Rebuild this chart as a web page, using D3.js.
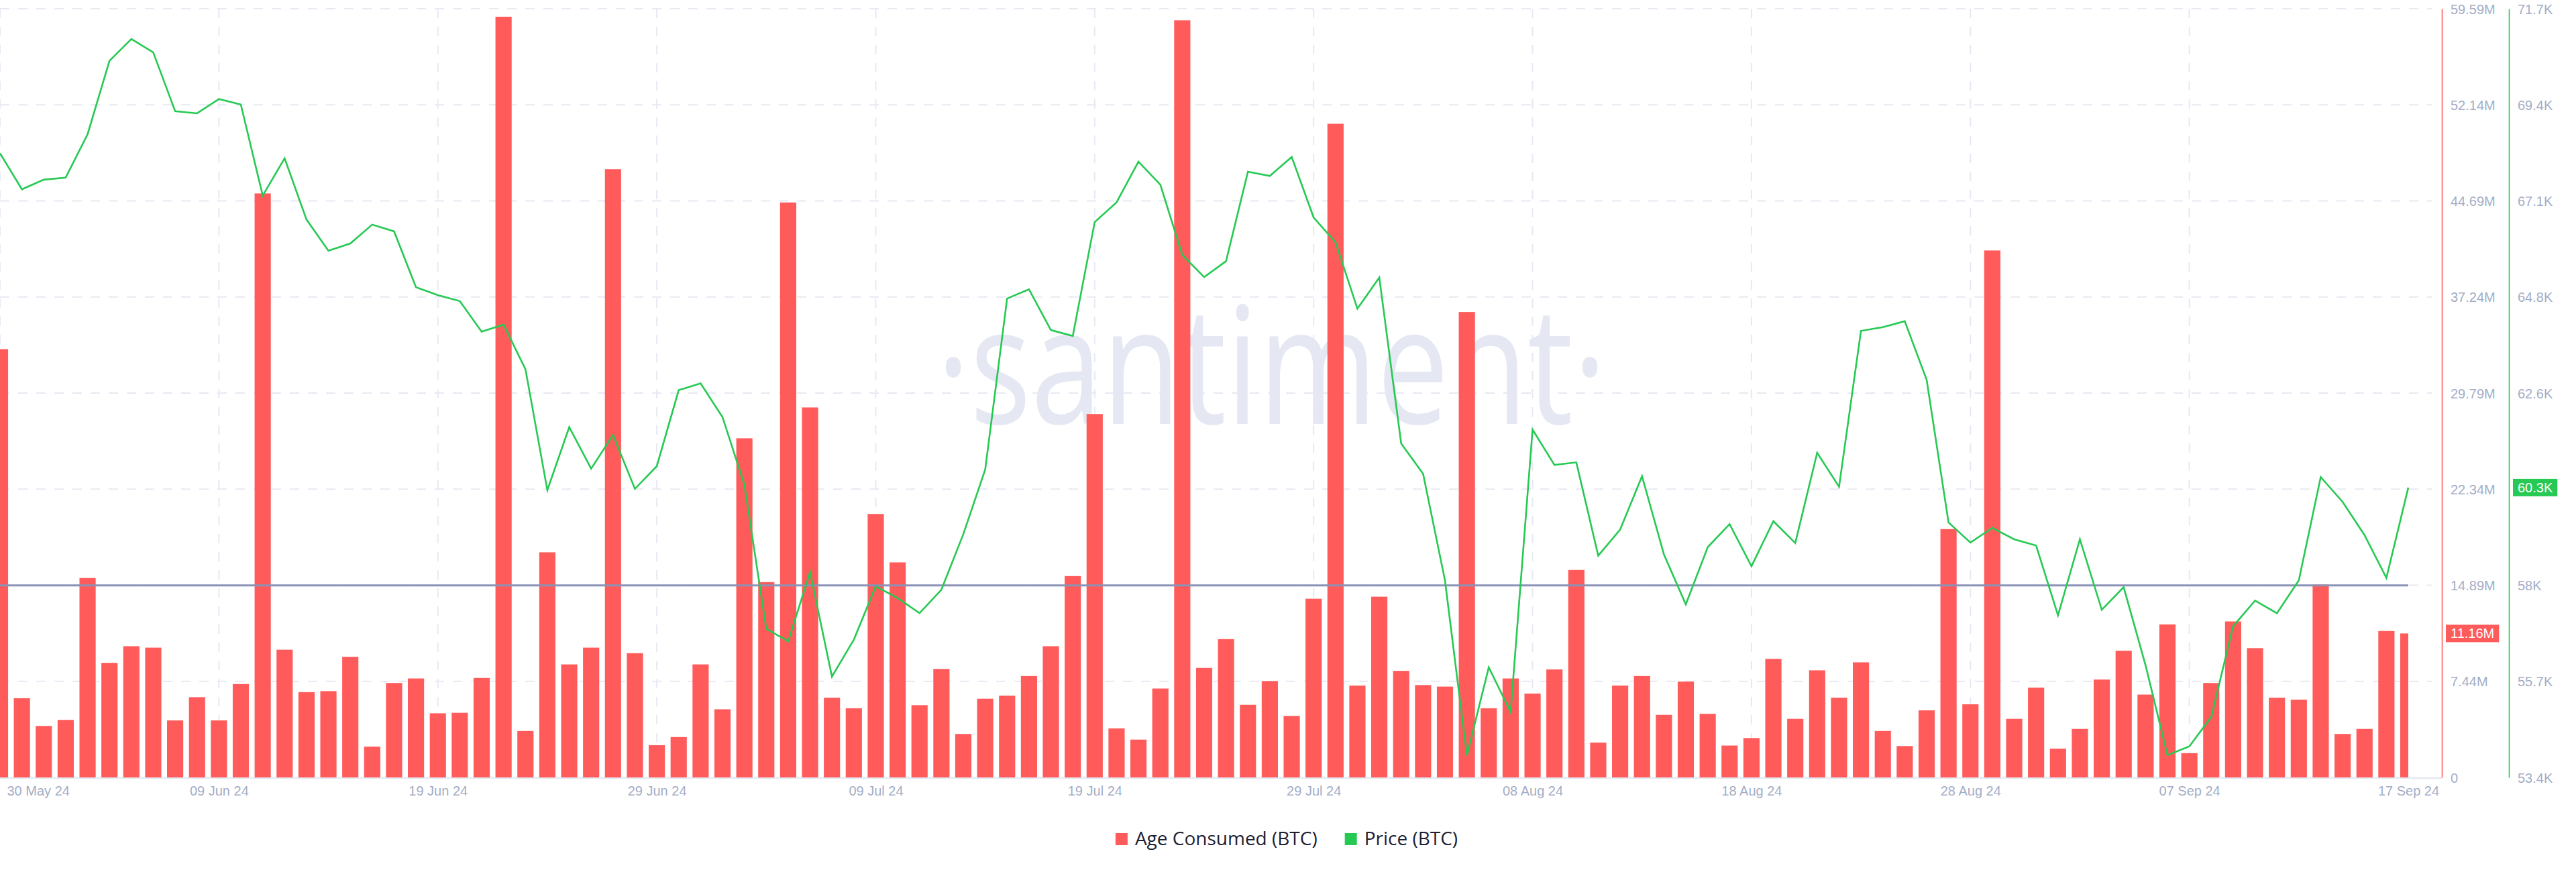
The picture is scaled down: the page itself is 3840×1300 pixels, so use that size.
<!DOCTYPE html>
<html><head><meta charset="utf-8">
<script src="https://cdn.jsdelivr.net/npm/d3@7"></script>
<style>
html,body{margin:0;padding:0;background:#fff;}
svg{display:block;}
</style></head>
<body><svg id="chart" width="3840" height="1300"></svg>
<script>
// ---------------- data ----------------
const startDate = "2024-05-30"; // one value per day from this date
const ageConsumedM = [
  33.2, 6.14, 3.99, 4.46, 15.46, 8.88, 10.17, 10.06, 4.42, 6.22,
  4.42, 7.24, 45.27, 9.90, 6.61, 6.69, 9.35, 2.39, 7.32, 7.67,
  4.97, 5.01, 7.71, 58.97, 3.60, 17.45, 8.76, 10.06, 47.15, 9.63,
  2.50, 3.13, 8.76, 5.28, 26.29, 15.14, 44.57, 28.68, 6.18, 5.36,
  20.42, 16.67, 5.60, 8.41, 3.37, 6.10, 6.34, 7.86, 10.17, 15.61,
  28.17, 3.80, 2.93, 6.89, 58.69, 8.49, 10.72, 5.63, 7.47, 4.77,
  13.85, 50.67, 7.12, 14.01, 8.26, 7.16, 7.04, 36.08, 5.36, 7.67,
  6.50, 8.37, 16.08, 2.70, 7.12, 7.86, 4.85, 7.43, 4.93, 2.47,
  3.05, 9.19, 4.54, 8.30, 6.18, 8.92, 3.60, 2.43, 5.20, 19.25,
  5.67, 40.85, 4.54, 6.96, 2.23, 3.76, 7.59, 9.82, 6.42, 11.86,
  1.88, 7.32, 12.09, 10.02, 6.18, 6.03, 14.95, 3.37, 3.76, 11.35,
  11.16
];
const priceK = [
  68.26, 67.40, 67.63, 67.68, 68.71, 70.46, 70.98, 70.66, 69.26, 69.21,
  69.55, 69.42, 67.25, 68.14, 66.68, 65.94, 66.11, 66.56, 66.40, 65.07,
  64.88, 64.74, 64.01, 64.18, 63.12, 60.24, 61.74, 60.75, 61.55, 60.27,
  60.81, 62.62, 62.78, 61.98, 60.37, 56.94, 56.64, 58.29, 55.80, 56.68,
  57.95, 57.67, 57.31, 57.87, 59.19, 60.73, 64.80, 65.02, 64.05, 63.91,
  66.62, 67.09, 68.06, 67.51, 65.84, 65.31, 65.69, 67.82, 67.72, 68.17,
  66.73, 66.14, 64.56, 65.30, 61.35, 60.63, 58.09, 53.92, 56.02, 54.96,
  61.68, 60.84, 60.90, 58.68, 59.30, 60.57, 58.71, 57.52, 58.88, 59.43,
  58.43, 59.50, 58.98, 61.13, 60.32, 64.03, 64.12, 64.26, 62.87, 59.47,
  58.99, 59.34, 59.07, 58.92, 57.26, 59.07, 57.39, 57.93, 56.07, 53.93,
  54.14, 54.84, 57.00, 57.61, 57.31, 58.09, 60.55, 59.96, 59.17, 58.15,
  60.30
];
const averageAgeM = 14.89;
const xTickDates = ["2024-05-30","2024-06-09","2024-06-19","2024-06-29","2024-07-09","2024-07-19",
                    "2024-07-29","2024-08-08","2024-08-18","2024-08-28","2024-09-07","2024-09-17"];
const xTickLabels = ["30 May 24","09 Jun 24","19 Jun 24","29 Jun 24","09 Jul 24","19 Jul 24",
                     "29 Jul 24","08 Aug 24","18 Aug 24","28 Aug 24","07 Sep 24","17 Sep 24"];
const ageTickLabels = ["0","7.44M","14.89M","22.34M","29.79M","37.24M","44.69M","52.14M","59.59M"];
const priceTickLabels = ["53.4K","55.7K","58K","60.3K","62.6K","64.8K","67.1K","69.4K","71.7K"];
const ageDomain = [0, 59.59];
const priceDomain = [53.4, 71.7];
const lastAgeLabel = "11.16M";
const lastPriceLabel = "60.3K";
const legendLabels = ["Age Consumed (BTC)", "Price (BTC)"];
const watermarkText = "\u00B7santiment\u00B7";

// ---------------- layout / style ----------------
const RED = "#ff5b5b", GREEN = "#26c953", AVG = "#8a92b6";
const TICK_COLOR = "#a3adc6", GRID = "#e7e9f3";
const plotLeft = 0, plotRight = 3590, plotTop = 13, plotBottom = 1159;
const redAxisX = 3640, greenAxisX = 3740, gridRight = 3625;

const parse = d3.utcParse("%Y-%m-%d");
const start = parse(startDate);
const dates = ageConsumedM.map((_, i) => d3.utcDay.offset(start, i));
const ageData = dates.map((d, i) => ({date: d, v: ageConsumedM[i]}));
const priceData = dates.map((d, i) => ({date: d, v: priceK[i]}));

const x = d3.scaleUtc().domain([dates[0], dates[dates.length - 1]]).range([plotLeft, plotRight]);
const yAge = d3.scaleLinear().domain(ageDomain).range([plotBottom, plotTop]);
const yPrice = d3.scaleLinear().domain(priceDomain).range([plotBottom, plotTop]);
const dayW = x(dates[1]) - x(dates[0]);
const barW = dayW * 0.74;

const svg = d3.select("#chart");
svg.append("rect").attr("width", 3840).attr("height", 1300).attr("fill", "#fff");

svg.append("defs").append("clipPath").attr("id", "plotClip")
  .append("rect").attr("x", plotLeft).attr("y", 0).attr("width", plotRight - plotLeft).attr("height", plotBottom);

const ageTickVals = d3.range(ageTickLabels.length).map(k => ageDomain[0] + k * (ageDomain[1] - ageDomain[0]) / (ageTickLabels.length - 1));
const priceTickVals = d3.range(priceTickLabels.length).map(k => priceDomain[0] + k * (priceDomain[1] - priceDomain[0]) / (priceTickLabels.length - 1));

// grid
const grid = svg.append("g");
grid.selectAll("line.h").data(ageTickVals.slice(1)).join("line")
  .attr("x1", plotLeft).attr("x2", gridRight)
  .attr("y1", d => yAge(d)).attr("y2", d => yAge(d))
  .attr("stroke", GRID).attr("stroke-width", 2).attr("stroke-dasharray", "14 13");
grid.selectAll("line.v").data(xTickDates.slice(0, -1).map(parse)).join("line")
  .attr("x1", d => x(d)).attr("x2", d => x(d))
  .attr("y1", plotTop).attr("y2", plotBottom)
  .attr("stroke", GRID).attr("stroke-width", 2).attr("stroke-dasharray", "14 13");

// watermark
svg.append("text").text(watermarkText)
  .attr("x", 1396).attr("y", 632)
  .attr("textLength", 999).attr("lengthAdjust", "spacingAndGlyphs")
  .attr("font-family", "'Open Sans', sans-serif").attr("font-size", 243)
  .attr("fill", "#e5e8f2");

// bars
svg.append("g").attr("clip-path", "url(#plotClip)")
  .selectAll("rect").data(ageData).join("rect")
  .attr("x", d => x(d.date) - barW / 2)
  .attr("width", barW)
  .attr("y", d => yAge(d.v))
  .attr("height", d => plotBottom - yAge(d.v))
  .attr("fill", RED);

// average line
svg.append("line")
  .attr("x1", plotLeft).attr("x2", plotRight)
  .attr("y1", yAge(averageAgeM)).attr("y2", yAge(averageAgeM))
  .attr("stroke", AVG).attr("stroke-width", 3);

// price line
svg.append("path").datum(priceData)
  .attr("fill", "none").attr("stroke", GREEN).attr("stroke-width", 2.6)
  .attr("stroke-linejoin", "miter")
  .attr("d", d3.line().x(d => x(d.date)).y(d => yPrice(d.v)));

// x axis baseline
svg.append("line").attr("x1", plotLeft).attr("x2", redAxisX)
  .attr("y1", plotBottom + 1).attr("y2", plotBottom + 1)
  .attr("stroke", "#e3e7f0").attr("stroke-width", 2);

// x axis
const xAxis = d3.axisBottom(x)
  .tickValues(xTickDates.map(parse))
  .tickFormat((d, i) => xTickLabels[i])
  .tickSize(0).tickPadding(0);
const gx = svg.append("g").attr("transform", `translate(0,${plotBottom})`).call(xAxis);
gx.select(".domain").remove();
gx.selectAll("text")
  .attr("y", 27).attr("dy", 0)
  .attr("font-family", "'Liberation Sans', Arial, sans-serif").attr("font-size", 20)
  .attr("fill", TICK_COLOR);
gx.selectAll(".tick").filter((d, i) => i === 0).select("text")
  .attr("text-anchor", "start").attr("x", 10);

// right axes
function styleAxis(g, color) {
  g.select(".domain").attr("stroke", color).attr("stroke-width", 1.6);
  g.selectAll("text")
    .attr("font-family", "'Liberation Sans', Arial, sans-serif").attr("font-size", 20)
    .attr("fill", TICK_COLOR).attr("x", 13).attr("dy", "0.35em");
}
const gAge = svg.append("g").attr("transform", `translate(${redAxisX},0)`)
  .call(d3.axisRight(yAge).tickValues(ageTickVals).tickFormat((d, i) => ageTickLabels[i]).tickSize(0).tickSizeOuter(0));
styleAxis(gAge, RED);
const gPrice = svg.append("g").attr("transform", `translate(${greenAxisX},0)`)
  .call(d3.axisRight(yPrice).tickValues(priceTickVals).tickFormat((d, i) => priceTickLabels[i]).tickSize(0).tickSizeOuter(0));
styleAxis(gPrice, GREEN);

// last-value badges
function badge(axisX, yPos, label, color) {
  const g = svg.append("g");
  const r = g.append("rect").attr("fill", color);
  const t = g.append("text").text(label)
    .attr("x", axisX + 13).attr("y", yPos).attr("dy", "0.35em")
    .attr("font-family", "'Liberation Sans', Arial, sans-serif").attr("font-size", 20)
    .attr("fill", "#fff");
  const w = t.node().getComputedTextLength();
  r.attr("x", axisX + 6).attr("y", yPos - 13).attr("width", w + 14).attr("height", 26);
}
badge(redAxisX, yAge(ageConsumedM[ageConsumedM.length - 1]), lastAgeLabel, RED);
badge(greenAxisX, yPrice(priceK[priceK.length - 1]), lastPriceLabel, GREEN);

// legend
const legend = svg.append("g");
const colors = [RED, GREEN];
let cx = 0;
legendLabels.forEach((lab, i) => {
  const g = legend.append("g").attr("transform", `translate(${cx},0)`);
  g.append("rect").attr("x", 0).attr("y", 1242).attr("width", 18).attr("height", 18).attr("fill", colors[i]);
  const t = g.append("text").text(lab).attr("x", 29).attr("y", 1260)
    .attr("font-family", "'Open Sans', sans-serif").attr("font-size", 28).attr("fill", "#1d2133");
  cx += 29 + t.node().getComputedTextLength() + 41;
});
const legendW = cx - 41;
legend.attr("transform", `translate(${1918 - legendW / 2},0)`);
</script>
</body></html>
